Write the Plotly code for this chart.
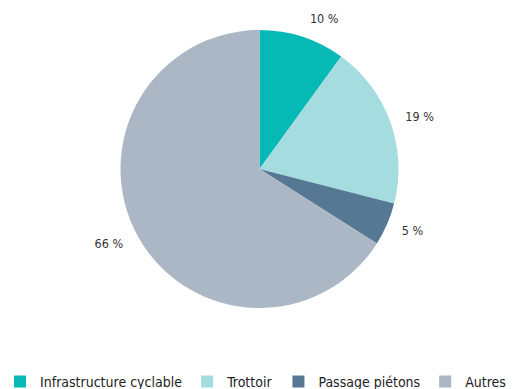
import plotly.graph_objects as go

categories = ["Infrastructure cyclable", "Trottoir", "Passage piétons", "Autres"]
values = [10, 19, 5, 66]
colors = ["#06B9B4", "#A4DCDF", "#567894", "#ACB7C5"]

FONT = "DejaVu Sans Condensed, Roboto Condensed, Liberation Sans Narrow, sans-serif"

# visible pie (no text)
pie = go.Pie(
    labels=categories,
    values=values,
    sort=False,
    direction="clockwise",
    rotation=0,
    marker=dict(colors=colors),
    textinfo="none",
    hoverinfo="label+percent",
    domain=dict(x=[0, 1], y=[0.0397, 0.9603]),
)

# transparent, slightly larger pie carrying the outside labels
label_ring = go.Pie(
    labels=categories,
    values=values,
    sort=False,
    direction="clockwise",
    rotation=0,
    marker=dict(colors=["rgba(0,0,0,0)"] * len(values), line=dict(width=0)),
    texttemplate="%{value} %",
    textposition="outside",
    textfont=dict(family=FONT, size=12.5, color="#333333"),
    hoverinfo="skip",
    showlegend=False,
    domain=dict(x=[0, 1], y=[0, 1]),
)

fig = go.Figure([pie, label_ring])

fig.update_layout(
    width=519,
    height=389,
    margin=dict(l=0, r=0, t=18, b=69, autoexpand=False),
    paper_bgcolor="white",
    plot_bgcolor="white",
    font=dict(family=FONT, color="#222222"),
    legend=dict(
        orientation="h",
        x=0.0,
        xanchor="left",
        y=-0.152,
        yanchor="top",
        font=dict(size=14, color="#222222"),
        traceorder="normal",
        itemwidth=30,
        borderwidth=0,
    ),
)

fig.write_html("out.html", config={"displayModeBar": False},
               post_script="document.body.style.margin='0';")
